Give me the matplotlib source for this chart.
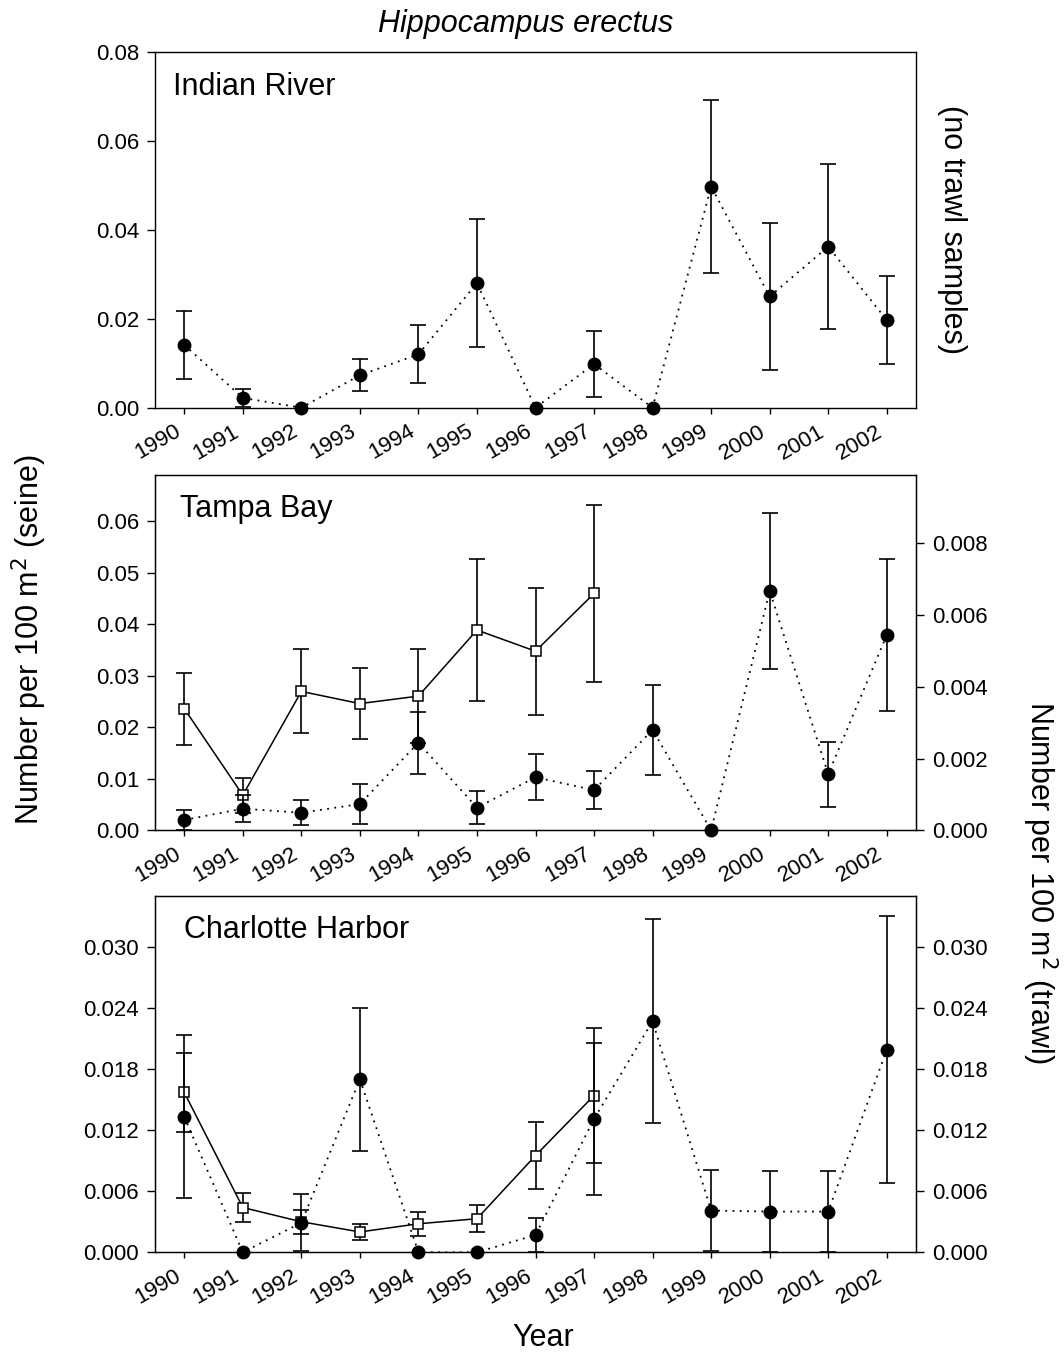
import numpy as np
import matplotlib
matplotlib.use("Agg")
import matplotlib.pyplot as plt

plt.rcParams['font.family'] = ['Liberation Sans', 'DejaVu Sans']

# years sampled
years = np.arange(1990, 2003)
trawl_years = np.arange(1990, 1998)

# Indian River (seine only)
ir_seine = [0.0141, 0.0022, 0.0, 0.0073, 0.0120, 0.0280, 0.0, 0.0098, 0.0, 0.0497, 0.0250, 0.0362, 0.0197]
ir_seine_se = [0.0076, 0.0020, 0, 0.0036, 0.0065, 0.0144, 0, 0.0074, 0, 0.0195, 0.0166, 0.0186, 0.0098]

# Tampa Bay
tb_seine = [0.0020, 0.0042, 0.0034, 0.0051, 0.0170, 0.0044, 0.0103, 0.0078, 0.0195, 0.0, 0.0465, 0.0109, 0.0379]
tb_seine_se = [0.0020, 0.0026, 0.0024, 0.0038, 0.0060, 0.0032, 0.0045, 0.0037, 0.0087, 0, 0.0152, 0.0063, 0.0148]
tb_trawl = [0.00339, 0.00098, 0.00387, 0.00353, 0.00374, 0.00558, 0.00499, 0.00660]
tb_trawl_se = [0.00100, 0.00049, 0.00117, 0.00098, 0.00132, 0.00199, 0.00177, 0.00246]

# Charlotte Harbor
ch_seine = [0.0133, 0.0, 0.0029, 0.0170, 0.0, 0.0, 0.0017, 0.0131, 0.0227, 0.0041, 0.0040, 0.0040, 0.0199]
ch_seine_se = [0.0080, 0, 0.0028, 0.0070, 0, 0, 0.0017, 0.0075, 0.0100, 0.0040, 0.0040, 0.0040, 0.0131]
ch_trawl = [0.0157, 0.0044, 0.0030, 0.0020, 0.0028, 0.0033, 0.0095, 0.0154]
ch_trawl_se = [0.0039, 0.00145, 0.00118, 0.0008, 0.00117, 0.00133, 0.00328, 0.00666]

W, H = 1064, 1353
fig = plt.figure(figsize=(W / 100, H / 100), dpi=100)

left = 155 / W
width = (916 - 155) / W


def make_ax(top, bottom):
    return fig.add_axes([left, 1 - bottom / H, width, (bottom - top) / H])


def style(ax):
    ax.set_xlim(1989.5, 2002.5)
    ax.set_xticks(years)
    ax.set_xticklabels([str(y) for y in years], rotation=30, ha='right')
    ax.tick_params(axis='x', direction='out', length=4.5, width=1, labelsize=16, pad=5, top=False)
    ax.tick_params(axis='y', direction='out', length=5.5, width=1, labelsize=16, pad=6)
    for s in ax.spines.values():
        s.set_linewidth(1)


def seine(ax, y, se):
    y = np.array(y)
    se = np.array(se, dtype=float)
    ax.plot(years, y, color='black', ls=(0, (1, 3)), lw=1.3, zorder=2)
    m = se > 0
    ax.errorbar(years[m], y[m], yerr=se[m], fmt='none', ecolor='black',
                elinewidth=1.2, capsize=5.5, capthick=1.2, zorder=3)
    ax.plot(years, y, ls='none', marker='o', ms=9, color='black', zorder=4, clip_on=False)


def trawl(ax, y, se):
    ax.errorbar(trawl_years, y, yerr=se, fmt='none', ecolor='black',
                elinewidth=1.2, capsize=5.5, capthick=1.2, zorder=3)
    ax.plot(trawl_years, y, color='black', lw=1.1, marker='s', ms=7,
            mfc='white', mec='black', mew=1.1, zorder=4, clip_on=False)


# panel 1 - Indian River
ax1 = make_ax(51.7, 407.7)
seine(ax1, ir_seine, ir_seine_se)
style(ax1)
ax1.set_ylim(0, 0.08)
ax1.set_yticks([0, 0.02, 0.04, 0.06, 0.08])
ax1.set_yticklabels(['0.00', '0.02', '0.04', '0.06', '0.08'])
ax1.tick_params(right=False)
ax1.text((173 - 155) / 761, 0.878, 'Indian River', transform=ax1.transAxes, fontsize=22, va='baseline')
fig.text(952 / W, 1 - 229.5 / H, '(no trawl samples)', rotation=-90, fontsize=22, ha='center', va='center')

# panel 2 - Tampa Bay
ax2 = make_ax(475, 830.3)
ax2r = ax2.twinx()
ax2.set_zorder(ax2r.get_zorder() + 1)
ax2.patch.set_visible(False)
trawl(ax2r, tb_trawl, tb_trawl_se)
seine(ax2, tb_seine, tb_seine_se)
style(ax2)
ax2.set_ylim(0, 0.069)
ax2.set_yticks([0, 0.01, 0.02, 0.03, 0.04, 0.05, 0.06])
ax2.set_yticklabels(['0.00', '0.01', '0.02', '0.03', '0.04', '0.05', '0.06'])
ax2r.set_ylim(0, 0.0099)
ax2r.set_yticks([0, 0.002, 0.004, 0.006, 0.008])
ax2r.set_yticklabels(['0.000', '0.002', '0.004', '0.006', '0.008'])
ax2r.tick_params(axis='y', direction='out', length=5.5, width=1, labelsize=16, pad=6)
ax2.text((180 - 155) / 761, 0.883, 'Tampa Bay', transform=ax2.transAxes, fontsize=22, va='baseline')

# panel 3 - Charlotte Harbor
ax3 = make_ax(896, 1252.3)
ax3r = ax3.twinx()
ax3.set_zorder(ax3r.get_zorder() + 1)
ax3.patch.set_visible(False)
trawl(ax3r, ch_trawl, ch_trawl_se)
seine(ax3, ch_seine, ch_seine_se)
style(ax3)
ticks3 = [0, 0.006, 0.012, 0.018, 0.024, 0.030]
labels3 = ['0.000', '0.006', '0.012', '0.018', '0.024', '0.030']
for a in (ax3, ax3r):
    a.set_ylim(0, 0.035)
    a.set_yticks(ticks3)
    a.set_yticklabels(labels3)
ax3r.tick_params(axis='y', direction='out', length=5.5, width=1, labelsize=16, pad=6)
ax3.text((184 - 155) / 761, 0.883, 'Charlotte Harbor', transform=ax3.transAxes, fontsize=22, va='baseline')

# titles and axis labels
fig.text(526 / W, 1 - 32 / H, 'Hippocampus erectus', fontsize=22, style='italic', ha='center', va='baseline')
fig.text(543 / W, 1 - 1346 / H, 'Year', fontsize=22, ha='center', va='baseline')
fig.text(29 / W, 1 - 640 / H, 'Number per 100 m$^2$ (seine)', rotation=90, fontsize=22, ha='center', va='center')
fig.text(1040 / W, 1 - 882 / H, 'Number per 100 m$^2$ (trawl)', rotation=-90, fontsize=22, ha='center', va='center')

fig.savefig('out.png', dpi=100)
